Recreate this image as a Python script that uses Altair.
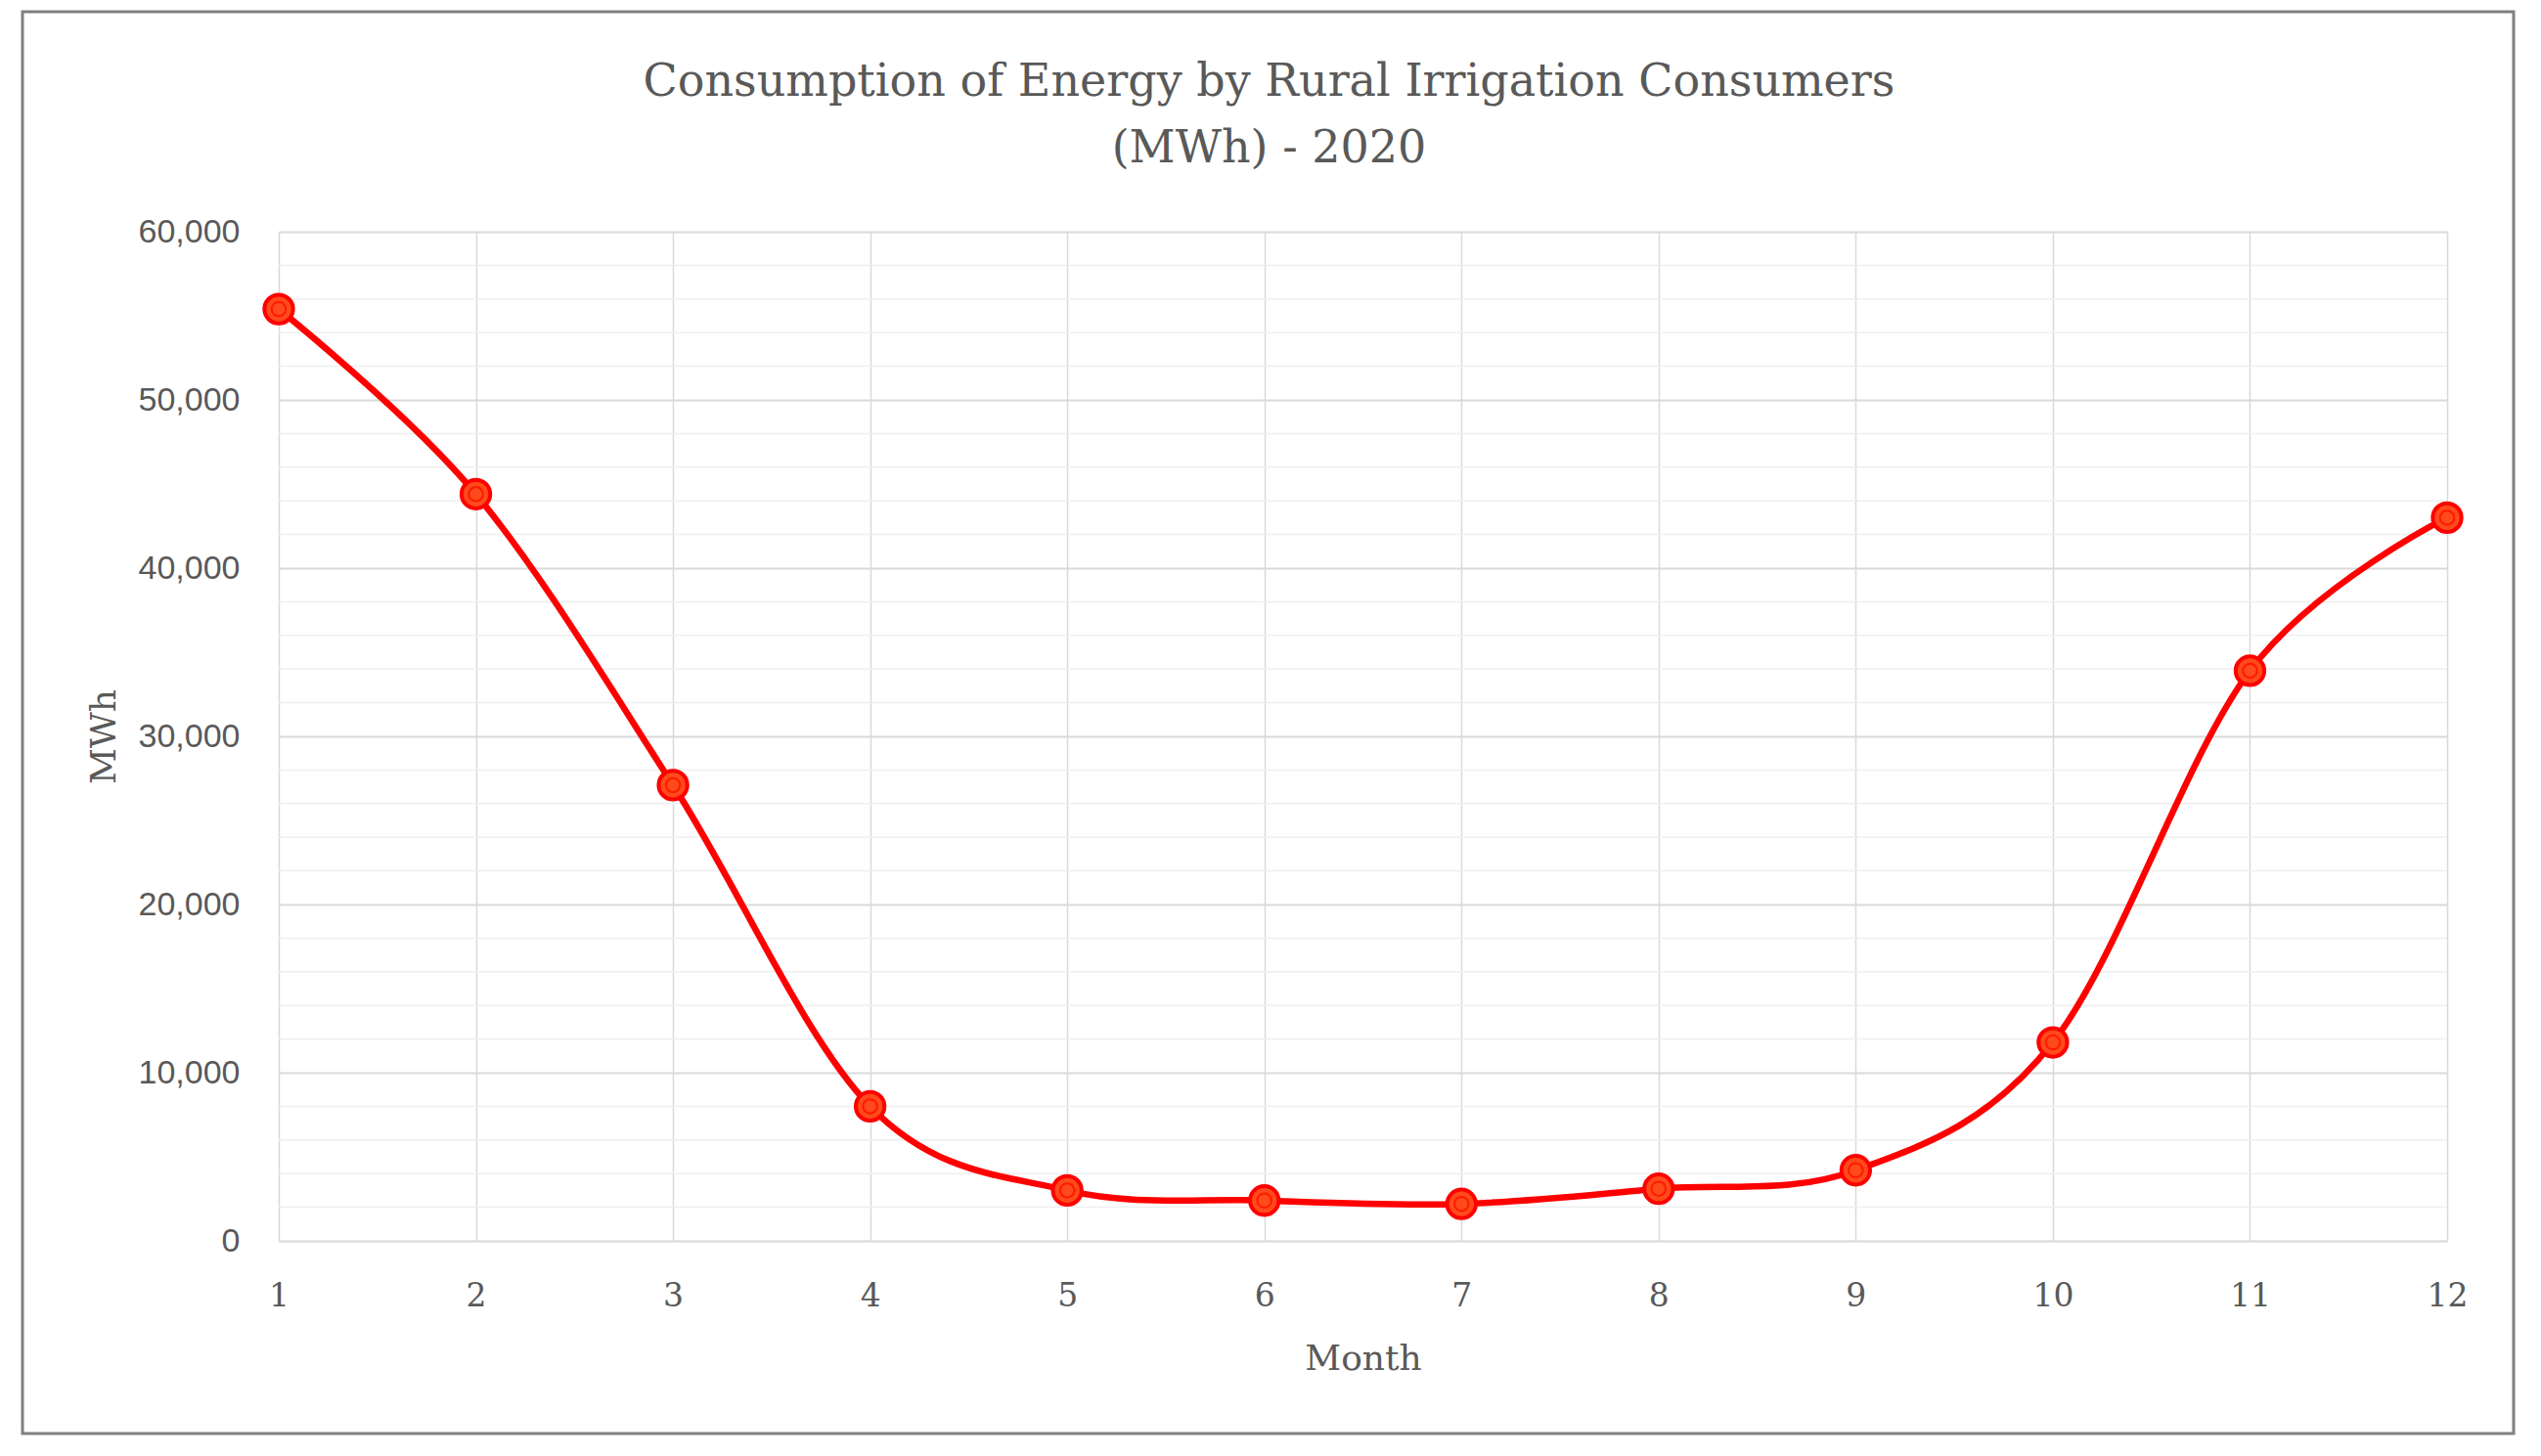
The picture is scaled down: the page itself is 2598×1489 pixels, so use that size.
import altair as alt
import pandas as pd

# ---- data ----
months = [1, 2, 3, 4, 5, 6, 7, 8, 9, 10, 11, 12]
mwh = [55400, 44400, 27100, 8000, 3000, 2400, 2200, 3100, 4200, 11800, 33900, 43000]
major_ticks = [0, 10000, 20000, 30000, 40000, 50000, 60000]
minor_ticks = [v for v in range(0, 60001, 2000) if v % 10000 != 0]
title_lines = ["Consumption of Energy by Rural Irrigation Consumers", "(MWh) - 2020"]

df = pd.DataFrame({"Month": months, "MWh": mwh})
minor_df = pd.DataFrame({"MWh": minor_ticks})

TEXT = "#595959"
SERIF = "DejaVu Serif"

xscale = alt.Scale(domain=[1, 12], nice=False, zero=False)
yscale = alt.Scale(domain=[0, 60000], nice=False)

xaxis = alt.Axis(
    values=months, grid=True, gridColor="#d9d9d9", gridWidth=1.5,
    ticks=False, domain=False, labelFont=SERIF, labelFontSize=33,
    labelColor=TEXT, labelPadding=40, labelFlush=False, title="Month",
    titleFont=SERIF, titleFontSize=36, titleFontWeight="normal",
    titleColor=TEXT, titlePadding=30,
)
yaxis = alt.Axis(
    values=major_ticks, format=",.0f", grid=True, gridColor="#d9d9d9", gridWidth=2,
    ticks=False, domain=False, labelFont="Liberation Sans", labelFontSize=34,
    labelColor=TEXT, labelPadding=40, labelFlush=False, title="MWh",
    titleFont=SERIF, titleFontSize=36, titleFontWeight="normal",
    titleColor=TEXT, titlePadding=16,
)

minor = alt.Chart(minor_df).mark_rule(color="#efefef", strokeWidth=1.5).encode(
    y=alt.Y("MWh:Q", scale=yscale, axis=yaxis)
)

base = alt.Chart(df).encode(
    x=alt.X("Month:Q", scale=xscale, axis=xaxis),
    y=alt.Y("MWh:Q", scale=yscale, axis=yaxis),
)

line = base.mark_line(color="#ff0000", strokeWidth=6.5, interpolate="cardinal")
outer = base.mark_point(
    shape="circle", size=860, filled=True, fill="#ff4a1c", stroke="#ff0000",
    strokeWidth=4, opacity=1,
)
inner = base.mark_point(
    shape="circle", size=210, filled=False, stroke="#ff1a00", strokeWidth=2, opacity=1,
)

border = alt.Chart(alt.Data(values=[{}])).mark_rect(
    fill=None, stroke="#808080", strokeWidth=3
).encode(
    x=alt.value(-262), x2=alt.value(2285), y=alt.value(-225), y2=alt.value(1229)
)

chart = alt.layer(minor, line, outer, inner, border).properties(
    width=2217,
    height=1032,
    autosize=alt.AutoSizeParams(type="none"),
    padding={"left": 277, "top": 229, "right": 88, "bottom": 200},
    title=alt.TitleParams(
        text=title_lines, anchor="middle", frame="group", dx=-96, offset=-165,
        font=SERIF, fontSize=46, fontWeight="normal", color=TEXT, lineHeight=68,
    ),
).configure_view(stroke=None).configure(background="white")

chart.save("out.html", embed_options={"renderer": "svg", "actions": False})
